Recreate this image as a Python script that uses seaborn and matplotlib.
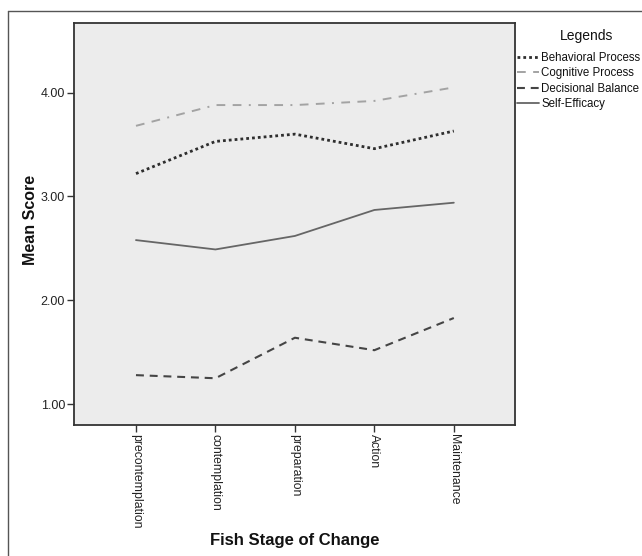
import matplotlib
matplotlib.use("Agg")
import matplotlib.pyplot as plt
from matplotlib.lines import Line2D
import seaborn as sns
import pandas as pd

stages = ["precontemplation", "contemplation", "preparation", "Action", "Maintenance"]
series_names = ["Behavioral Process", "Cognitive Process", "Decisional Balance", "Self-Efficacy"]
behavioral = [3.22, 3.53, 3.60, 3.46, 3.63]
cognitive = [3.68, 3.88, 3.88, 3.92, 4.05]
decisional = [1.28, 1.25, 1.64, 1.52, 1.83]
self_efficacy = [2.58, 2.49, 2.62, 2.87, 2.94]
y_ticks = [1.0, 2.0, 3.0, 4.0]

sns.set_theme(style="white")
plt.rcParams["font.family"] = ["Liberation Sans", "DejaVu Sans"]

rows = []
for name, vals in zip(series_names, [behavioral, cognitive, decisional, self_efficacy]):
    for i, (st, v) in enumerate(zip(stages, vals)):
        rows.append({"pos": i, "stage": st, "value": v, "series": name})
df = pd.DataFrame(rows)

colors = {"Behavioral Process": "#2e2e2e", "Cognitive Process": "#a3a3a3",
          "Decisional Balance": "#454545", "Self-Efficacy": "#666666"}
widths = {"Behavioral Process": 2.0, "Cognitive Process": 1.4,
          "Decisional Balance": 1.5, "Self-Efficacy": 1.3}
dashes = {"Behavioral Process": (1, 1.1), "Cognitive Process": (4.5, 3.8, 4.5, 3.8, 1, 3.8),
          "Decisional Balance": (3.8, 2.8), "Self-Efficacy": ""}

fig = plt.figure(figsize=(6.42, 5.56), dpi=100)
ax = fig.add_axes([74/642, 1-425/556, (515-74)/642, (425-23)/556])
ax.set_facecolor("#ececec")

for name in series_names:
    sub = df[df["series"] == name]
    d = dashes[name]
    kw = {}
    if d:
        kw["dashes"] = [d]
        kw["style"] = sub["series"]
    sns.lineplot(data=sub, x="pos", y="value", ax=ax, color=colors[name],
                 linewidth=widths[name], legend=False, **kw)

ax.set_xlim(-0.78, 4.77)
ax.set_ylim(0.80, 4.67)
ax.set_xticks(range(len(stages)))
ax.set_xticklabels(stages, rotation=-90, va="top", ha="center", fontsize=8.8, color="#222222")
ax.set_yticks(y_ticks)
ax.set_yticklabels([f"{t:.2f}" for t in y_ticks], fontsize=9, color="#222222")
ax.tick_params(axis="both", direction="out", length=5, width=1, color="#333333", pad=1.5, bottom=True, left=True)
for s in ax.spines.values():
    s.set_color("#333333")
    s.set_linewidth(1.3)

ax.set_xlabel("Fish Stage of Change", fontsize=12, fontweight="bold", color="#111111")
ax.set_ylabel("Mean Score", fontsize=11.5, fontweight="bold", color="#111111")
ax.xaxis.set_label_coords(0.5, (425-533)/402)
ax.yaxis.set_label_coords((38-74)/441, 0.51)

handles = []
for name in series_names:
    h = Line2D([], [], color=colors[name], linewidth=widths[name])
    if dashes[name]:
        h.set_dashes(dashes[name])
    handles.append(h)
leg = fig.legend(handles, series_names, loc="upper left",
                 bbox_to_anchor=(517/642, 1-52/556), frameon=False, fontsize=8.3,
                 handlelength=1.9, handletextpad=0.2,
                 labelspacing=0.3, borderpad=0, borderaxespad=0)
for t in leg.get_texts():
    t.set_color("#111111")
fig.text(587/642, 1-36/556, "Legends", ha="center", va="center", fontsize=10, color="#111111")

fig.add_artist(Line2D([8/642, 1.0], [1-11/556, 1-11/556], color="#555555", linewidth=1.0))
fig.add_artist(Line2D([8/642, 8/642], [0, 1-11/556], color="#555555", linewidth=1.0))

fig.savefig("out.png", dpi=100)
